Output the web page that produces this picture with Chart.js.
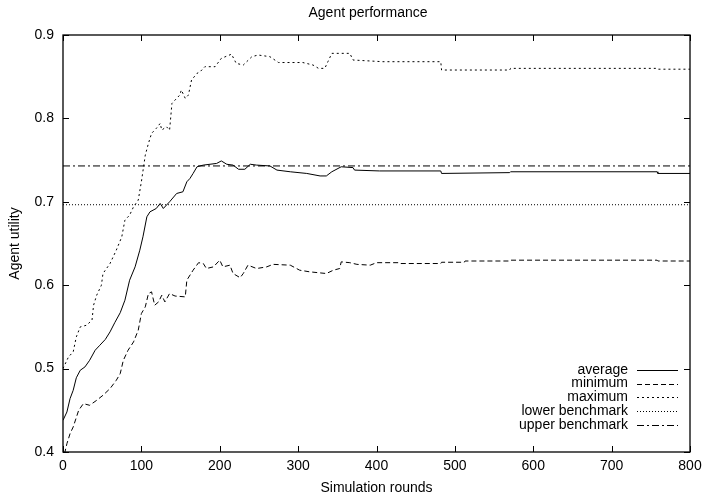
<!DOCTYPE html>
<html>
<head>
<meta charset="utf-8">
<script src="https://cdn.jsdelivr.net/npm/chart.js@4/dist/chart.umd.min.js"></script>
<style>
html,body{margin:0;padding:0;background:#fff;}
#wrap{width:706px;height:495px;}
</style>
</head>
<body>
<div id="wrap"><canvas id="c" width="706" height="495"></canvas></div>
<script>
const chartTitle = "Agent performance";
const xTitle = "Simulation rounds";
const yTitle = "Agent utility";
const xTicks = [0,100,200,300,400,500,600,700,800];
const yTicks = [0.4,0.5,0.6,0.7,0.8,0.9];

const avgRounds = [0,5,9,13,17,22,28,34,41,47,54,60,66,73,79,85,92,98,102,107,111,119,124,128,136,145,153,158,162,166,171,179,196,202,209,217,224,232,239,247,264,273,290,311,328,336,343,355,370,372,404,482,483,570,571,758,759,800];
const avgValues = [0.438,0.448,0.464,0.474,0.489,0.498,0.502,0.51,0.522,0.528,0.535,0.544,0.555,0.567,0.582,0.606,0.622,0.642,0.658,0.682,0.688,0.692,0.698,0.692,0.70,0.71,0.712,0.724,0.728,0.734,0.742,0.744,0.746,0.749,0.745,0.744,0.739,0.739,0.745,0.744,0.743,0.738,0.736,0.734,0.731,0.731,0.736,0.742,0.741,0.738,0.737,0.737,0.734,0.735,0.736,0.736,0.734,0.734];

const maxRounds = [0,7,13,17,22,30,37,39,43,49,51,60,68,75,79,85,90,96,100,105,109,113,119,124,126,132,136,139,145,149,151,156,160,164,171,175,181,194,202,215,221,230,241,249,264,275,306,319,326,334,338,343,366,370,408,482,483,570,571,758,759,800];
const maxValues = [0.50,0.514,0.52,0.538,0.55,0.552,0.558,0.576,0.588,0.60,0.614,0.626,0.642,0.658,0.678,0.684,0.694,0.702,0.724,0.756,0.77,0.782,0.788,0.794,0.786,0.79,0.786,0.818,0.824,0.828,0.834,0.824,0.828,0.846,0.854,0.856,0.862,0.862,0.872,0.877,0.866,0.864,0.874,0.876,0.874,0.867,0.867,0.864,0.86,0.86,0.868,0.878,0.878,0.87,0.868,0.868,0.858,0.858,0.860,0.860,0.859,0.859];

const minRounds = [2,5,9,13,20,26,34,43,51,60,68,73,77,83,90,96,100,105,109,113,117,122,126,130,136,143,156,158,166,173,179,183,192,200,204,213,217,226,230,236,247,260,268,290,302,315,336,345,353,355,366,375,392,400,430,431,482,483,512,513,570,571,758,759,800];
const minValues = [0.398,0.41,0.422,0.43,0.45,0.458,0.456,0.462,0.468,0.476,0.486,0.494,0.51,0.522,0.532,0.546,0.566,0.574,0.59,0.592,0.576,0.58,0.588,0.58,0.59,0.587,0.586,0.606,0.618,0.627,0.626,0.62,0.622,0.63,0.622,0.624,0.614,0.609,0.614,0.624,0.62,0.622,0.625,0.624,0.618,0.616,0.614,0.618,0.62,0.628,0.627,0.625,0.624,0.627,0.627,0.626,0.626,0.6275,0.6275,0.629,0.629,0.630,0.630,0.629,0.629];

const lowerBenchmark = 0.6965;
const upperBenchmark = 0.743;

const seriesNames = ["average","minimum","maximum","lower benchmark","upper benchmark"];
const FONT = "'Liberation Sans Narrow','Liberation Sans',Arial,sans-serif";

function pts(xs, ys){ return xs.map((x,i)=>({x:x, y:ys[i]})); }

const dashes = [[], [5,3], [2,3], [1,2], [7,3,2,3]];

const datasets = [
  {label:seriesNames[0], data:pts(avgRounds,avgValues), borderDash:dashes[0]},
  {label:seriesNames[1], data:pts(minRounds,minValues), borderDash:dashes[1]},
  {label:seriesNames[2], data:pts(maxRounds,maxValues), borderDash:dashes[2]},
  {label:seriesNames[3], data:pts([0,800],[lowerBenchmark,lowerBenchmark]), borderDash:dashes[3]},
  {label:seriesNames[4], data:pts([0,800],[upperBenchmark,upperBenchmark]), borderDash:dashes[4]}
].map(d=>Object.assign(d,{borderColor:'#000',borderWidth:1,pointRadius:0,fill:false,tension:0,showLine:true}));

const framePlugin = {
  id:'frame',
  afterDatasetsDraw(chart){
    const {ctx, chartArea:a, scales:{x,y}} = chart;
    ctx.save();
    ctx.strokeStyle='#000';
    ctx.lineWidth=1.3;
    ctx.setLineDash([]);
    ctx.strokeRect(a.left, a.top, a.right-a.left, a.bottom-a.top);
    ctx.lineWidth=1;
    const tl=6;
    ctx.beginPath();
    xTicks.forEach(v=>{
      const px=Math.round(x.getPixelForValue(v))+0.5;
      ctx.moveTo(px,a.bottom); ctx.lineTo(px,a.bottom-tl);
      ctx.moveTo(px,a.top); ctx.lineTo(px,a.top+tl);
    });
    yTicks.forEach(v=>{
      const py=Math.round(y.getPixelForValue(v))+0.5;
      ctx.moveTo(a.left,py); ctx.lineTo(a.left+tl,py);
      ctx.moveTo(a.right,py); ctx.lineTo(a.right-tl,py);
    });
    ctx.stroke();
    // title
    ctx.fillStyle='#000';
    ctx.font='14px '+FONT;
    ctx.textAlign='center'; ctx.textBaseline='middle';
    ctx.fillText(chartTitle,368,13);
    // legend
    ctx.font='14px '+FONT;
    ctx.textAlign='right';
    const ys=[370,383.5,397,411,425];
    chart.data.datasets.forEach((d,i)=>{
      ctx.fillStyle='#000';
      ctx.fillText(d.label,628,ys[i]);
      ctx.beginPath();
      ctx.setLineDash(d.borderDash);
      ctx.lineWidth=1;
      ctx.moveTo(637,Math.round(ys[i])+0.5); ctx.lineTo(678,Math.round(ys[i])+0.5);
      ctx.stroke();
    });
    ctx.restore();
  }
};

new Chart(document.getElementById('c'),{
  type:'line',
  data:{datasets},
  options:{
    responsive:false,
    animation:false,
    layout:{padding:{top:35,right:16,left:0,bottom:0}},
    plugins:{legend:{display:false},title:{display:false},tooltip:{enabled:false}},
    scales:{
      x:{type:'linear',min:0,max:800,
        afterBuildTicks(s){s.ticks=xTicks.map(v=>({value:v}));},
        afterFit(s){s.height=43;s.paddingLeft=0;s.paddingRight=0;},
        grid:{display:false,drawTicks:false},border:{display:false},
        ticks:{color:'#000',padding:6,font:{family:FONT,size:14},maxRotation:0,autoSkip:false},
        title:{display:true,text:xTitle,color:'#000',font:{family:FONT,size:14},padding:{top:2,bottom:-2}}
      },
      y:{type:'linear',min:0.4,max:0.9,
        afterBuildTicks(s){s.ticks=yTicks.map(v=>({value:v}));},
        afterFit(s){s.width=63;s.paddingTop=0;s.paddingBottom=0;},
        grid:{display:false,drawTicks:false},border:{display:false},
        ticks:{color:'#000',padding:9,font:{family:FONT,size:14},callback:v=>v.toFixed(1)},
        title:{display:true,text:yTitle,color:'#000',font:{family:FONT,size:14},padding:{top:7,bottom:0}}
      }
    }
  },
  plugins:[framePlugin]
});
</script>
</body>
</html>
